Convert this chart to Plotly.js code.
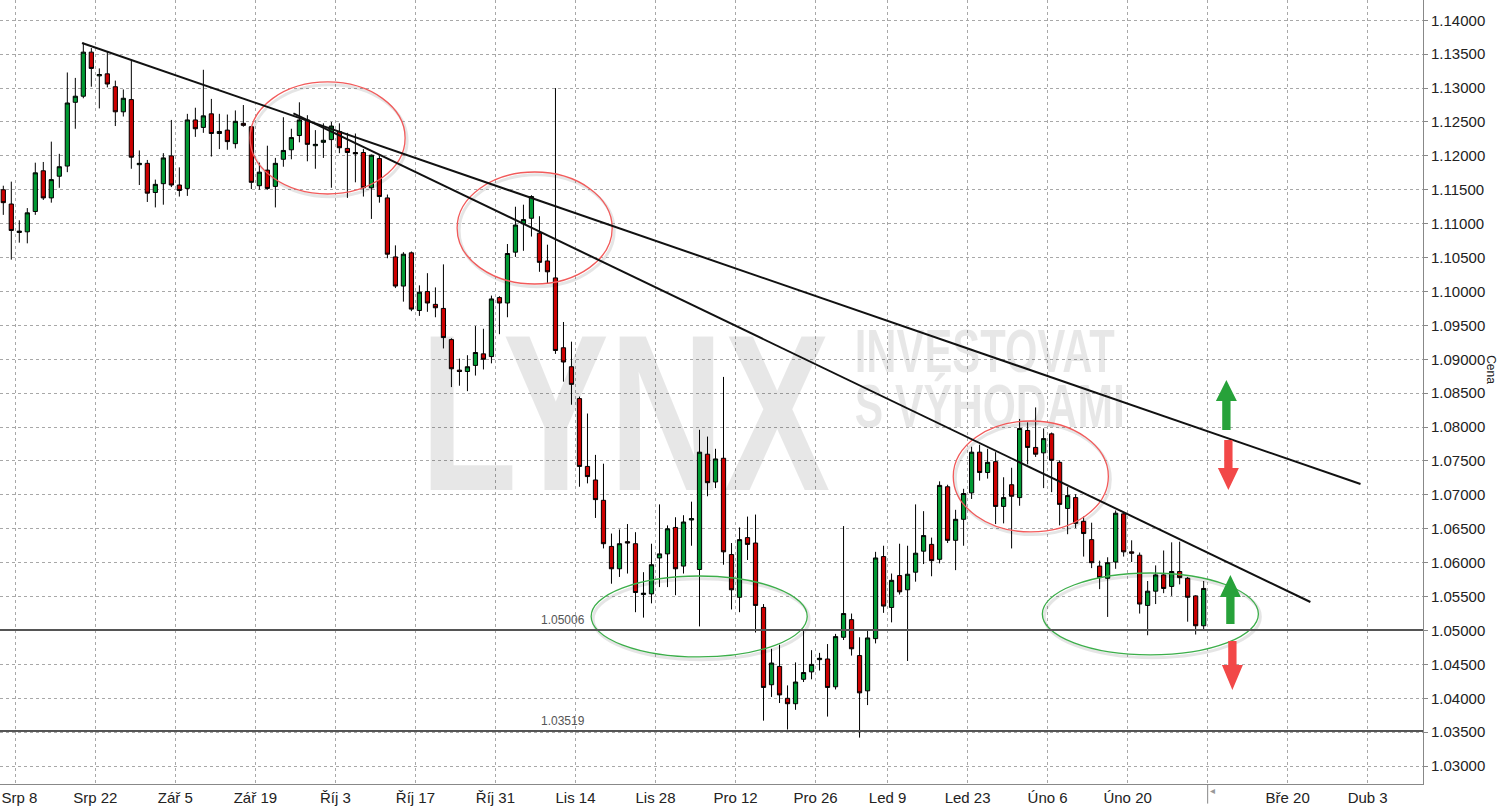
<!DOCTYPE html>
<html>
<head>
<meta charset="utf-8">
<script src="https://cdn.plot.ly/plotly-3.0.1.min.js"></script>
<style>
  html, body { margin: 0; padding: 0; background: #fff; }
  #chart { width: 1508px; height: 812px; }
</style>
</head>
<body>
<div id="chart"></div>
<script>
// ---- Data (EUR/USD daily candles) ----
const opens = [
1.1150,1.1129,1.1087,1.1088,1.1118,1.1178,1.1138,1.1170,1.1185,1.1279,
1.1288,1.1353,1.1318,1.1321,1.1302,1.1265,1.1283,1.1187,1.1189,1.1146,
1.1159,1.1200,1.1157,1.1152,1.1253,1.1242,1.1262,1.1233,1.1238,1.1218,
1.1248,1.1243,1.1156,1.1179,1.1155,1.1195,1.1209,1.1230,1.1253,1.1215,
1.1220,1.1224,1.1236,1.1211,1.1205,1.1205,1.1153,1.1196,1.1138,1.1051,
1.1008,1.1057,1.0972,1.1000,1.0981,1.0975,1.0929,1.0884,1.0882,1.0891,
1.0908,1.0904,1.0991,1.0983,1.1058,1.1100,1.1108,1.1086,1.1045,1.1020,
1.0917,1.0889,1.0842,1.0742,1.0722,1.0692,1.0624,1.0591,1.0631,1.0628,
1.0553,1.0554,1.0607,1.0613,1.0652,1.0595,1.0663,1.0590,1.0760,1.0719,
1.0754,1.0612,1.0549,1.0637,1.0629,1.0534,1.0420,1.0447,1.0400,1.0392,
1.0428,1.0439,1.0457,1.0458,1.0417,1.0490,1.0516,1.0463,1.0411,1.0488,
1.0609,1.0534,1.0581,1.0560,1.0586,1.0617,1.0627,1.0605,1.0712,1.0633,
1.0664,1.0703,1.0763,1.0733,1.0749,1.0683,1.0715,1.0696,1.0795,1.0770,
1.0762,1.0790,1.0748,1.0680,1.0696,1.0661,1.0634,1.0595,1.0577,1.0601,
1.0672,1.0616,1.0611,1.0537,1.0558,1.0582,1.0565,1.0587,1.0577,1.0551,
1.0507];
const highs = [
1.1156,1.1162,1.1105,1.1123,1.1190,1.1191,1.1221,1.1203,1.1323,1.1315,
1.1367,1.1359,1.1329,1.1354,1.1311,1.1298,1.1341,1.1208,1.1194,1.1165,
1.1204,1.1253,1.1183,1.1262,1.1271,1.1327,1.1284,1.1262,1.1261,1.1267,
1.1275,1.1244,1.1190,1.1215,1.1197,1.1257,1.1240,1.1279,1.1260,1.1238,
1.1248,1.1250,1.1248,1.1234,1.1233,1.1210,1.1202,1.1200,1.1143,1.1068,
1.1058,1.1059,1.1009,1.1027,1.1006,1.1040,1.0931,1.0901,1.0906,1.0949,
1.0945,1.0994,1.0993,1.1070,1.1125,1.1128,1.1142,1.1111,1.1069,1.1300,
1.0955,1.0926,1.0845,1.0820,1.0759,1.0746,1.0643,1.0649,1.0657,1.0645,
1.0586,1.0628,1.0686,1.0655,1.0667,1.0670,1.0690,1.0796,1.0786,1.0768,
1.0874,1.0629,1.0652,1.0668,1.0671,1.0539,1.0473,1.0479,1.0419,1.0453,
1.0500,1.0471,1.0467,1.0480,1.0495,1.0654,1.0525,1.0490,1.0500,1.0616,
1.0625,1.0584,1.0628,1.0625,1.0686,1.0676,1.0637,1.0720,1.0715,1.0678,
1.0709,1.0771,1.0774,1.0768,1.0763,1.0726,1.0740,1.0812,1.0807,1.0829,
1.0798,1.0792,1.0751,1.0712,1.0701,1.0668,1.0659,1.0603,1.0608,1.0677,
1.0675,1.0633,1.0615,1.0573,1.0596,1.0618,1.0630,1.0631,1.0579,1.0552,
1.0573];
const lows = [
1.1113,1.1047,1.1072,1.1071,1.1113,1.1135,1.1131,1.1153,1.1176,1.1240,
1.1285,1.1302,1.1270,1.1301,1.1244,1.1258,1.1181,1.1157,1.1132,1.1124,
1.1128,1.1154,1.1140,1.1141,1.1228,1.1234,1.1199,1.1210,1.1209,1.1211,
1.1243,1.1151,1.1150,1.1150,1.1124,1.1184,1.1195,1.1220,1.1192,1.1181,
1.1197,1.1153,1.1204,1.1138,1.1161,1.1140,1.1107,1.1131,1.1049,1.1005,
1.0985,1.0971,1.0964,1.0970,1.0962,1.0916,1.0859,1.0861,1.0853,1.0876,
1.0885,1.0894,1.0937,1.0962,1.1051,1.1060,1.1081,1.1029,1.1011,1.0908,
1.0867,1.0833,1.0712,1.0717,1.0666,1.0621,1.0569,1.0579,1.0584,1.0527,
1.0519,1.0540,1.0564,1.0564,1.0552,1.0584,1.0625,1.0506,1.0698,1.0710,
1.0597,1.0531,1.0527,1.0604,1.0497,1.0367,1.0402,1.0393,1.0354,1.0383,
1.0424,1.0428,1.0441,1.0373,1.0413,1.0486,1.0463,1.0342,1.0390,1.0481,
1.0526,1.0512,1.0553,1.0455,1.0572,1.0598,1.0580,1.0599,1.0629,1.0589,
1.0625,1.0694,1.0721,1.0724,1.0657,1.0658,1.0621,1.0684,1.0745,1.0756,
1.0710,1.0704,1.0655,1.0642,1.0651,1.0609,1.0592,1.0561,1.0520,1.0591,
1.0609,1.0601,1.0525,1.0493,1.0539,1.0555,1.0551,1.0568,1.0513,1.0494,
1.0502];
const closes = [
1.1131,1.1090,1.1089,1.1116,1.1175,1.1138,1.1165,1.1184,1.1278,1.1288,
1.1353,1.1329,1.1320,1.1306,1.1265,1.1285,1.1198,1.1189,1.1145,1.1158,
1.1197,1.1157,1.1149,1.1253,1.1240,1.1259,1.1233,1.1236,1.1221,1.1251,
1.1245,1.1161,1.1176,1.1152,1.1189,1.1208,1.1227,1.1253,1.1217,1.1217,
1.1223,1.1244,1.1212,1.1205,1.1203,1.1153,1.1201,1.1140,1.1055,1.1008,
1.1055,1.0974,1.0999,1.0983,1.0976,1.0932,1.0886,1.0882,1.0889,1.0910,
1.0900,1.0989,1.0983,1.1056,1.1098,1.1106,1.1140,1.1043,1.1029,1.0913,
1.0896,1.0863,1.0742,1.0727,1.0693,1.0628,1.0591,1.0628,1.0629,1.0556,
1.0555,1.0597,1.0613,1.0650,1.0591,1.0660,1.0665,1.0763,1.0718,1.0753,
1.0616,1.0560,1.0634,1.0627,1.0537,1.0416,1.0452,1.0405,1.0392,1.0424,
1.0438,1.0450,1.0459,1.0416,1.0491,1.0525,1.0473,1.0408,1.0489,1.0607,
1.0536,1.0574,1.0557,1.0583,1.0614,1.0640,1.0603,1.0714,1.0633,1.0664,
1.0702,1.0763,1.0733,1.0748,1.0683,1.0696,1.0698,1.0798,1.0770,1.0760,
1.0783,1.0751,1.0686,1.0699,1.0658,1.0643,1.0600,1.0578,1.0600,1.0673,
1.0616,1.0614,1.0539,1.0558,1.0582,1.0562,1.0587,1.0578,1.0549,1.0507,
1.0562];

// trading-day positions of the two-week tick marks (boundary before the Monday)
const tickPos  = [1.5, 11.5, 21.5, 31.5, 41.5, 51.5, 61.5, 71.5, 81.5, 91.5, 101.5, 110.5, 120.5, 130.5, 140.5, 150.5, 160.5, 170.5];
const tickText = ['\u00a0\u00a0Srp 8','Srp 22','Zář 5','Zář 19','Říj 3','Říj 17','Říj 31','Lis 14','Lis 28','Pro 12','Pro 26','Led 9','Led 23','Úno 6','Úno 20','','Bře 20','Dub 3'];

// horizontal support levels
const levels = [1.05006, 1.03519];

// trend lines: [x0, y0, x1, y1] in (trading day, price)
const trendLines = [
  [9.84, 1.13665, 169.6, 1.07161],
  [36.25, 1.12628, 163.34, 1.05420]
];
// highlight ellipses: [x0, x1, y0, y1, colour]
const ellipses = [
  [30.84, 50.21, 1.11438, 1.13090, '#f25a5a'],
  [56.71, 76.09, 1.10110, 1.11762, '#f25a5a'],
  [118.71, 138.09, 1.06454, 1.08090, '#f25a5a'],
  [73.46, 100.46, 1.04610, 1.05804, '#3cae4a'],
  [129.84, 156.84, 1.04639, 1.05848, '#3cae4a']
];
// arrows: [centre x, start price, head-base price, tip price, colour]
const arrows = [
  [152.84, 1.07958, 1.08386, 1.08696, '#27a23a'],
  [153.09, 1.07810, 1.07397, 1.07073, '#f24848'],
  [153.34, 1.05096, 1.05494, 1.05819, '#27a23a'],
  [153.59, 1.04845, 1.04491, 1.04122, '#f24848']
];
// watermark texts: [text, x, y, size, anchor, target width px]
const watermark = [
  ['LYNX', 77.7, 1.0790, 223, 'middle center', 410],
  ['INVESTOVAT', 106.4, 1.0904, 61, 'middle right', 260],
  ['S VÝHODAMI', 106.4, 1.0822, 61, 'middle right', 270]
];

const xIdx = opens.map((_, i) => i);
const yRange = [1.02736, 1.14299];
const xRange = [-0.4125, 177.41];
const FONT = 'Liberation Sans, Arial, sans-serif';

const shapes = [];
ellipses.forEach(e => {
  shapes.push({type:'circle', xref:'x', yref:'y', x0:e[0]+0.25, x1:e[1]+0.25, y0:e[2]-0.0004, y1:e[3]-0.0004,
    line:{color:'rgba(0,0,0,0.10)', width:3}, layer:'above'});
  shapes.push({type:'circle', xref:'x', yref:'y', x0:e[0], x1:e[1], y0:e[2], y1:e[3],
    line:{color:e[4], width:1.3}, layer:'above'});
});
levels.forEach(v => {
  shapes.push({type:'line', xref:'paper', yref:'y', x0:0, x1:1, y0:v, y1:v,
    line:{color:'#555555', width:2}, layer:'above'});
});
trendLines.forEach(t => {
  shapes.push({type:'line', xref:'x', yref:'y', x0:t[0], y0:t[1], x1:t[2], y1:t[3],
    line:{color:'#111111', width:2}, layer:'above'});
});
const headHalf = 1.31, shaftHalf = 0.52;
arrows.forEach(a => {
  const [cx, ys, yb, yt, col] = a;
  const p = `M ${cx-shaftHalf},${ys} L ${cx-shaftHalf},${yb} L ${cx-headHalf},${yb} L ${cx},${yt} L ${cx+headHalf},${yb} L ${cx+shaftHalf},${yb} L ${cx+shaftHalf},${ys} Z`;
  shapes.push({type:'path', xref:'x', yref:'y', path:p, fillcolor:col, line:{width:0}, layer:'above'});
});
// small tick below the axis at the "current" marker
shapes.push({type:'line', xref:'x', yref:'paper', x0:150.5, x1:150.5, y0:0, y1:-0.025,
  line:{color:'#888', width:1}});

const annotations = levels.map(v => ({
  x: 69.96, y: v, xref:'x', yref:'y', text: v.toFixed(5), showarrow:false,
  yshift: 10, font:{family:FONT, size:12, color:'#555'}
}));
annotations.push({x:1.054, y:0.528, xref:'paper', yref:'paper', text:'Cena', showarrow:false,
  textangle:90, font:{family:FONT, size:12, color:'#222'}});
annotations.push({x:151.09, y:-0.018, xref:'x', yref:'paper', text:'◂', showarrow:false,
  font:{family:FONT, size:10, color:'#999'}});

const wmColor = 'rgba(0,0,0,0.095)';
const wmFont = 'Liberation Sans, Arial, sans-serif';
const traces = watermark.map(w => ({
  type:'scatter', mode:'text', x:[w[1]], y:[w[2]], text:[w[0]], textposition:w[4],
  textfont:{family:wmFont, size:w[3], color:wmColor, weight:'bold'},
  hoverinfo:'skip', xaxis:'x', yaxis:'y', cliponaxis:false
}));
traces.push({type:'candlestick', x:xIdx, open:opens, high:highs, low:lows, close:closes, xaxis:'x', yaxis:'y2',
   increasing:{fillcolor:'#009933', line:{color:'#000', width:1}},
   decreasing:{fillcolor:'#cc0000', line:{color:'#000', width:1}},
   whiskerwidth:0, hoverinfo:'skip'});

const layout = {
  width:1508, height:812,
  margin:{l:0, r:85, t:0, b:28},
  paper_bgcolor:'#fff', plot_bgcolor:'#fff',
  showlegend:false,
  boxgap:0.25,
  xaxis:{range:xRange, tickmode:'array', tickvals:tickPos, ticktext:tickText,
    showgrid:true, gridcolor:'#a8a8a8', griddash:'3px,3px', gridwidth:1,
    showline:true, linecolor:'#888', linewidth:1, ticks:'', zeroline:false,
    ticklabeloverflow:'allow',
    tickfont:{family:FONT, size:15, color:'#222'}, rangeslider:{visible:false}, fixedrange:true},
  yaxis:{range:yRange, side:'right', tick0:1.03, dtick:0.005, tickformat:'.5f',
    showgrid:true, gridcolor:'#a8a8a8', griddash:'3px,3px', gridwidth:1,
    showline:true, linecolor:'#888', linewidth:1, ticks:'outside', ticklen:4, tickcolor:'#888',
    zeroline:false, tickfont:{family:FONT, size:15, color:'#222'}, fixedrange:true},
  yaxis2:{range:yRange, overlaying:'y', visible:false, fixedrange:true},
  shapes:shapes, annotations:annotations
};

Plotly.newPlot('chart', traces, layout, {displayModeBar:false, staticPlot:true}).then(gd => {
  // squeeze the watermark words to the condensed width seen in the reference
  const groups = gd.querySelectorAll('.scatterlayer .trace');
  groups.forEach((g, i) => {
    if (i >= watermark.length) return;
    g.querySelectorAll('text').forEach(t => {
      t.setAttribute('textLength', watermark[i][5]);
      t.setAttribute('lengthAdjust', 'spacingAndGlyphs');
    });
  });
});
</script>
</body>
</html>
